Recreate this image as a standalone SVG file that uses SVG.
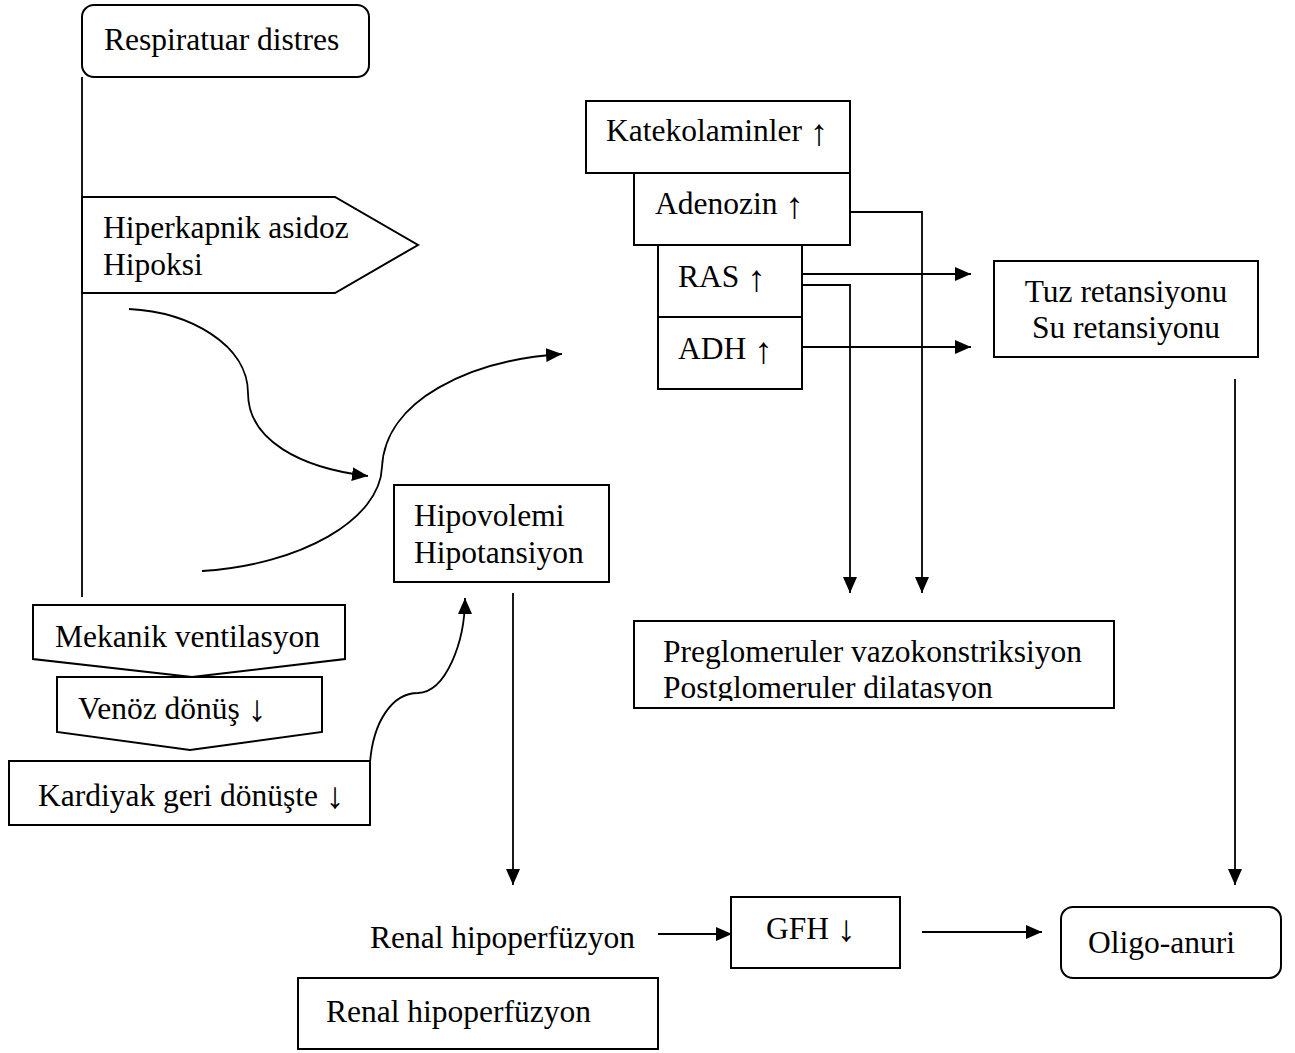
<svg xmlns="http://www.w3.org/2000/svg" width="1295" height="1053" viewBox="0 0 1295 1053">
  <style>
    .box { fill: #fff; stroke: #000; stroke-width: 2; }
    .t { font-family: "Liberation Serif", "Times New Roman", serif; font-size: 31.5px; fill: #000; }
    .mid { text-anchor: middle; }
    .ar { font-size: 37px; }
    .ln { fill: none; stroke: #000; stroke-width: 1.8; }
  </style>
  <defs>
    <marker id="arr" viewBox="0 0 16 14" refX="16" refY="7" markerWidth="16" markerHeight="14" markerUnits="userSpaceOnUse" orient="auto">
      <path d="M0,0 L16,7 L0,14 Z" fill="#000"/>
    </marker>
    <clipPath id="preClip">
      <rect x="634" y="621" width="480" height="80"/>
    </clipPath>
  </defs>
  <rect width="1295" height="1053" fill="#fff"/>

  <!-- connectors -->
  <g id="connectors">
    <line class="ln" x1="82" y1="77" x2="82" y2="597"/>
    <path class="ln" d="M129,309 C190,312 248,345 248,393 C248,440 300,468 368,476" marker-end="url(#arr)"/>
    <path class="ln" d="M202,571 C300,565 380,520 382,467 C385,400 470,360 562,354" marker-end="url(#arr)"/>
    <path class="ln" d="M370,763 C373,722 392,693 418,693 C446,692 465,642 465,598" marker-end="url(#arr)"/>
    <polyline class="ln" points="850,212 922,212 922,593" marker-end="url(#arr)"/>
    <line class="ln" x1="802" y1="274" x2="971" y2="274" marker-end="url(#arr)"/>
    <polyline class="ln" points="802,285 850,285 850,593" marker-end="url(#arr)"/>
    <line class="ln" x1="802" y1="347" x2="971" y2="347" marker-end="url(#arr)"/>
    <line class="ln" x1="513" y1="593" x2="513" y2="885" marker-end="url(#arr)"/>
    <line class="ln" x1="1235" y1="379" x2="1235" y2="885" marker-end="url(#arr)"/>
    <line class="ln" x1="658" y1="934" x2="732" y2="934" marker-end="url(#arr)"/>
    <line class="ln" x1="922" y1="932" x2="1042" y2="932" marker-end="url(#arr)"/>
  </g>

  <g id="respiratuar">
    <rect class="box" x="82" y="5" width="287" height="72" rx="12"/>
    <text class="t" x="104" y="50">Respiratuar distres</text>
  </g>

  <g id="hiperkapni">
    <polygon class="box" points="82,197 335,197 418,245 335,293 82,293"/>
    <text class="t" x="103" y="238">Hiperkapnik asidoz</text>
    <text class="t" x="103" y="275">Hipoksi</text>
  </g>

  <g id="katekolamin">
    <rect class="box" x="586" y="101" width="264" height="72"/>
    <text class="t" x="606" y="141">Katekolaminler <tspan class="ar" dy="4">↑</tspan></text>
  </g>
  <g id="adenozin">
    <rect class="box" x="634" y="173" width="216" height="72"/>
    <text class="t" x="655" y="214">Adenozin <tspan class="ar" dy="4">↑</tspan></text>
  </g>
  <g id="ras">
    <rect class="box" x="658" y="245" width="144" height="72"/>
    <text class="t" x="678" y="287">RAS <tspan class="ar" dy="4">↑</tspan></text>
  </g>
  <g id="adh">
    <rect class="box" x="658" y="317" width="144" height="72"/>
    <text class="t" x="678" y="359">ADH <tspan class="ar" dy="4">↑</tspan></text>
  </g>

  <g id="retansiyon">
    <rect class="box" x="994" y="261" width="264" height="96"/>
    <text class="t mid" x="1126" y="302">Tuz retansiyonu</text>
    <text class="t mid" x="1126" y="338">Su retansiyonu</text>
  </g>

  <g id="hipovolemi">
    <rect class="box" x="394" y="485" width="215" height="97"/>
    <text class="t" x="414" y="526">Hipovolemi</text>
    <text class="t" x="414" y="563">Hipotansiyon</text>
  </g>

  <g id="glomeruler">
    <rect class="box" x="634" y="621" width="480" height="87"/>
    <g clip-path="url(#preClip)">
      <text class="t" x="663" y="662">Preglomeruler vazokonstriksiyon</text>
      <text class="t" x="663" y="698">Postglomeruler dilatasyon</text>
    </g>
  </g>

  <g id="mekanik">
    <polygon class="box" points="33,605 345,605 345,659 192,677 33,659"/>
    <text class="t" x="55" y="647">Mekanik ventilasyon</text>
  </g>
  <g id="venoz">
    <polygon class="box" points="57,677 322,677 322,732 190,750 57,732"/>
    <text class="t" x="78" y="719">Venöz dönüş <tspan class="ar" dy="2">↓</tspan></text>
  </g>
  <g id="kardiyak">
    <rect class="box" x="9" y="761" width="361" height="64"/>
    <text class="t" x="38" y="806">Kardiyak geri dönüşte <tspan class="ar" dy="2">↓</tspan></text>
  </g>

  <g id="renal-text">
    <text class="t" x="370" y="948">Renal hipoperfüzyon</text>
  </g>
  <g id="gfh">
    <rect class="box" x="731" y="897" width="169" height="71"/>
    <text class="t" x="766" y="939">GFH <tspan class="ar" dy="2">↓</tspan></text>
  </g>
  <g id="oligo">
    <rect class="box" x="1061" y="907" width="220" height="71" rx="12"/>
    <text class="t" x="1088" y="953">Oligo-anuri</text>
  </g>
  <g id="renal-box">
    <rect class="box" x="298" y="978" width="360" height="71"/>
    <text class="t" x="326" y="1022">Renal hipoperfüzyon</text>
  </g>
</svg>
